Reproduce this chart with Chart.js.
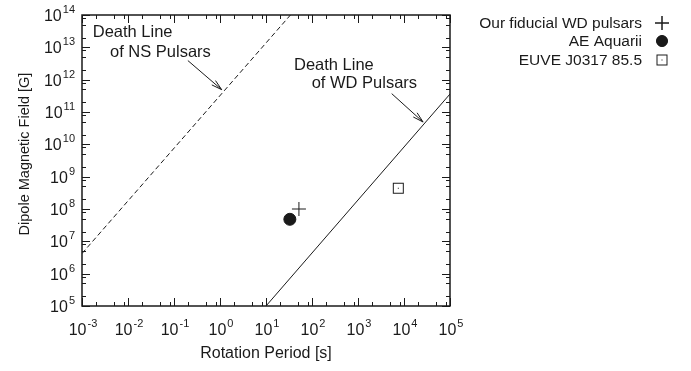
<!DOCTYPE html>
<html>
<head>
<meta charset="utf-8">
<script src="https://cdn.jsdelivr.net/npm/chart.js@4"></script>
<style>
  html, body { margin: 0; padding: 0; background: #fff; }
  canvas { display: block; }
</style>
</head>
<body>
<canvas id="chart" width="691" height="371"></canvas>
<script>
// ---- data ----
const xExponents = [-3, -2, -1, 0, 1, 2, 3, 4, 5];
const yExponents = [5, 6, 7, 8, 9, 10, 11, 12, 13, 14];
const minorFactors = [2, 5, 8];

const nsDeathLine = [{ x: 1e-3, y: 4.2e6 }, { x: 34, y: 1e14 }];
const wdDeathLine = [{ x: 10, y: 1e5 }, { x: 1e5, y: 3.6e11 }];
const fiducialWD = [{ x: 52, y: 1e8 }];
const aeAquarii = [{ x: 33, y: 4.8e7 }];
const euveJ0317 = [{ x: 7500, y: 4.4e8 }];

const legendLabels = ["Our fiducial WD pulsars", "AE Aquarii", "EUVE J0317 85.5"];

// annotation anchors in data space
const nsLabel = [{ text: "Death Line", x: 0.00171, y: 2.8e13 }, { text: "of NS Pulsars", x: 0.00406, y: 6.9e12 }];
const wdLabel = [{ text: "Death Line", x: 40.6, y: 2.75e12 }, { text: "of WD Pulsars", x: 98.4, y: 7.8e11 }];
const nsArrow = { from: { x: 0.20, y: 3.9e12 }, to: { x: 1.09, y: 4.9e11 } };
const wdArrow = { from: { x: 5400, y: 3.7e11 }, to: { x: 2.6e4, y: 4.9e10 } };

const INK = "#1a1a1a";
const FONT = "'Liberation Sans', Arial, Helvetica, sans-serif";

// square with a dot in the middle for EUVE
function makeDotSquare() {
  const c = document.createElement("canvas");
  c.width = 13; c.height = 13;
  const g = c.getContext("2d");
  g.strokeStyle = INK;
  g.lineWidth = 1;
  g.strokeRect(1.5, 1.5, 10, 10);
  g.fillStyle = INK;
  g.fillRect(6, 6, 1, 1);
  return c;
}
const dotSquare = makeDotSquare();

/* Frame, inward ticks, labels, legend and annotations */
const decorPlugin = {
  id: "decor",
  afterDraw(chart) {
    const ctx = chart.ctx;
    const xs = chart.scales.x, ys = chart.scales.y;
    const a = chart.chartArea;
    ctx.save();
    ctx.strokeStyle = INK;
    ctx.fillStyle = INK;

    // ticks
    ctx.lineWidth = 1;
    const tick = (x1, y1, x2, y2) => {
      ctx.beginPath(); ctx.moveTo(x1, y1); ctx.lineTo(x2, y2); ctx.stroke();
    };
    xExponents.forEach(e => {
      const px = Math.round(xs.getPixelForValue(Math.pow(10, e))) + 0.5;
      tick(px, a.bottom, px, a.bottom - 8);
      tick(px, a.top, px, a.top + 8);
      minorFactors.forEach(f => {
        const v = f * Math.pow(10, e);
        if (v > xs.max) return;
        const mx = Math.round(xs.getPixelForValue(v)) + 0.5;
        tick(mx, a.bottom, mx, a.bottom - 4);
        tick(mx, a.top, mx, a.top + 4);
      });
    });
    yExponents.forEach(e => {
      const py = Math.round(ys.getPixelForValue(Math.pow(10, e))) + 0.5;
      tick(a.left, py, a.left + 8, py);
      tick(a.right, py, a.right - 8, py);
      minorFactors.forEach(f => {
        const v = f * Math.pow(10, e);
        if (v > ys.max) return;
        const my = Math.round(ys.getPixelForValue(v)) + 0.5;
        tick(a.left, my, a.left + 4, my);
        tick(a.right, my, a.right - 4, my);
      });
    });

    // frame
    ctx.lineWidth = 1.5;
    ctx.strokeRect(a.left, a.top, a.right - a.left, a.bottom - a.top);

    // tick labels: 10 with superscript exponent
    const baseFont = "16px " + FONT, expFont = "11px " + FONT;
    const powerLabel = (e, x, y, align) => {
      ctx.font = baseFont;
      const wb = ctx.measureText("10").width;
      ctx.font = expFont;
      const es = e < 0 ? "-" + Math.abs(e) : String(e);
      const we = ctx.measureText(es).width;
      const total = wb + we + 1;
      let left = align === "center" ? x - total / 2 : x - total;
      ctx.textAlign = "left";
      ctx.textBaseline = "alphabetic";
      ctx.font = baseFont;
      ctx.fillText("10", left, y);
      ctx.font = expFont;
      ctx.fillText(es, left + wb + 1, y - 8);
    };
    xExponents.forEach(e => {
      powerLabel(e, xs.getPixelForValue(Math.pow(10, e)) + 1, 335, "center");
    });
    yExponents.forEach(e => {
      powerLabel(e, 75, ys.getPixelForValue(Math.pow(10, e)) + 6, "right");
    });

    // axis titles
    ctx.font = "16px " + FONT;
    ctx.textAlign = "center";
    ctx.textBaseline = "alphabetic";
    ctx.fillText("Rotation Period [s]", (a.left + a.right) / 2, 358);
    ctx.save();
    ctx.translate(29, 154);
    ctx.rotate(-Math.PI / 2);
    ctx.font = "14.5px " + FONT;
    ctx.fillText("Dipole Magnetic Field [G]", 0, 0);
    ctx.restore();

    // annotations
    ctx.font = "16.5px " + FONT;
    ctx.textAlign = "left";
    ctx.textBaseline = "middle";
    nsLabel.concat(wdLabel).forEach(l => {
      ctx.fillText(l.text, xs.getPixelForValue(l.x), ys.getPixelForValue(l.y));
    });
    ctx.lineWidth = 1;
    [nsArrow, wdArrow].forEach(ar => {
      const x1 = xs.getPixelForValue(ar.from.x), y1 = ys.getPixelForValue(ar.from.y);
      const x2 = xs.getPixelForValue(ar.to.x), y2 = ys.getPixelForValue(ar.to.y);
      const ang = Math.atan2(y2 - y1, x2 - x1);
      tick(x1, y1, x2, y2);
      const hl = 11, spread = 0.26;
      ctx.beginPath();
      ctx.moveTo(x2 - hl * Math.cos(ang - spread), y2 - hl * Math.sin(ang - spread));
      ctx.lineTo(x2, y2);
      ctx.lineTo(x2 - hl * Math.cos(ang + spread), y2 - hl * Math.sin(ang + spread));
      ctx.stroke();
    });

    // legend (text right-aligned, symbol on the right)
    const legendRows = [23, 41, 60];
    const symX = 662, textRight = 642;
    ctx.font = "15.5px " + FONT;
    ctx.textAlign = "right";
    ctx.textBaseline = "middle";
    [2, 3, 4].forEach((di, i) => {
      ctx.fillStyle = INK;
      ctx.fillText(legendLabels[i], textRight, legendRows[i] + 1);
      const ds = chart.data.datasets[di];
      Chart.helpers.drawPoint(ctx, {
        pointStyle: ds.pointStyle,
        radius: ds.pointStyle === "circle" ? 5.5 : ds.pointRadius,
        borderWidth: ds.borderWidth
      }, symX, legendRows[i]);
      ctx.strokeStyle = INK;
      ctx.fillStyle = INK;
      ctx.lineWidth = ds.borderWidth;
      if (ds.pointStyle === "cross" || ds.pointStyle === "circle") {
        if (ds.pointStyle === "circle") ctx.fill(); else ctx.stroke();
      }
    });
    ctx.restore();
  }
};

new Chart(document.getElementById("chart"), {
  type: "scatter",
  data: {
    datasets: [
      {
        label: "Death Line of NS Pulsars",
        data: nsDeathLine,
        showLine: true,
        borderColor: INK,
        borderWidth: 1,
        borderDash: [5, 3],
        pointRadius: 0
      },
      {
        label: "Death Line of WD Pulsars",
        data: wdDeathLine,
        showLine: true,
        borderColor: INK,
        borderWidth: 1,
        pointRadius: 0
      },
      {
        label: legendLabels[0],
        data: fiducialWD,
        pointStyle: "cross",
        pointRadius: 7,
        borderColor: INK,
        backgroundColor: INK,
        borderWidth: 1
      },
      {
        label: legendLabels[1],
        data: aeAquarii,
        pointStyle: "circle",
        pointRadius: 6,
        borderColor: INK,
        backgroundColor: INK,
        borderWidth: 1
      },
      {
        label: legendLabels[2],
        data: euveJ0317,
        pointStyle: dotSquare,
        pointRadius: 6,
        borderColor: INK,
        backgroundColor: INK,
        borderWidth: 1
      }
    ]
  },
  options: {
    responsive: false,
    animation: false,
    layout: { padding: { left: 82, right: 241, top: 15, bottom: 65 } },
    plugins: {
      legend: { display: false },
      tooltip: { enabled: false }
    },
    scales: {
      x: {
        type: "logarithmic",
        min: 1e-3,
        max: 1e5,
        ticks: { display: false },
        grid: { display: false, drawTicks: false },
        border: { display: false },
        afterFit: s => { s.height = 0; }
      },
      y: {
        type: "logarithmic",
        min: 1e5,
        max: 1e14,
        ticks: { display: false },
        grid: { display: false, drawTicks: false },
        border: { display: false },
        afterFit: s => { s.width = 0; }
      }
    }
  },
  plugins: [decorPlugin]
});
</script>
</body>
</html>
